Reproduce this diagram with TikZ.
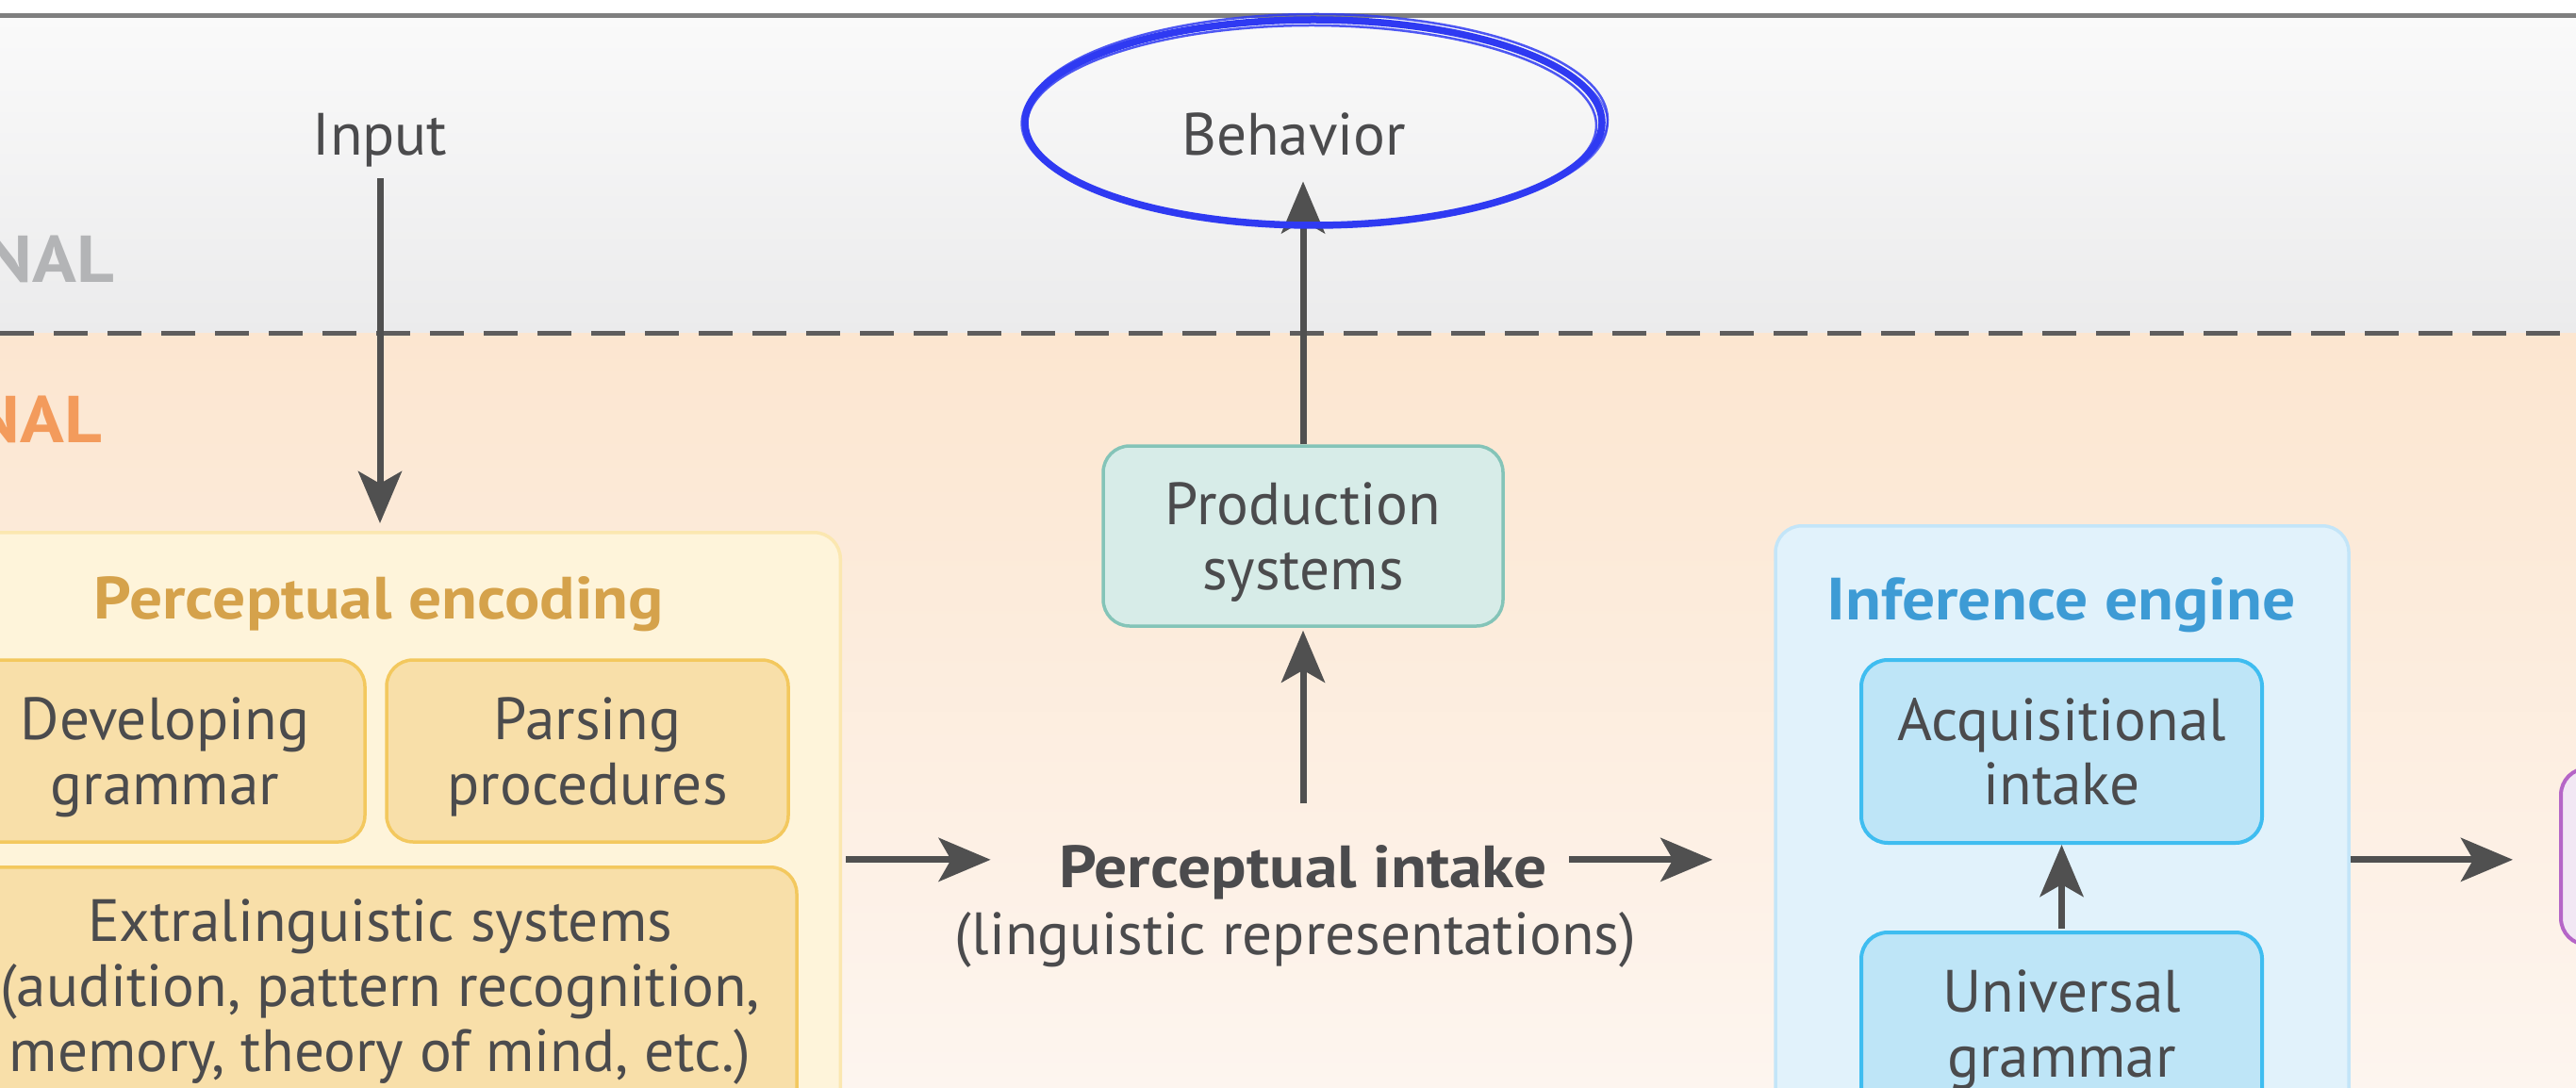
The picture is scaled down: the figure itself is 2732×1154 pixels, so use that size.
\documentclass[tikz,border=0pt]{standalone}
\usepackage{fontspec}
\setmainfont{PT Sans}[BoldFeatures={FakeStretch=1.1}]
\usetikzlibrary{arrows.meta}

\definecolor{ink}{HTML}{4B4B4D}
\definecolor{arrowc}{HTML}{505050}
\definecolor{ruleC}{HTML}{7F7F7F}
\definecolor{dashC}{HTML}{5E5D5D}
\definecolor{extTop}{HTML}{FAFAFA}
\definecolor{extBot}{HTML}{EBEBEC}
\definecolor{intTop}{HTML}{FCE6D0}
\definecolor{intMid}{HTML}{FCEBDC}
\definecolor{intBot}{HTML}{FDF5EF}
\definecolor{extLabel}{HTML}{B3B4B6}
\definecolor{intLabel}{HTML}{F39B5C}
\definecolor{encFill}{HTML}{FEF4DA}
\definecolor{encLine}{HTML}{FBE7B0}
\definecolor{encTitle}{HTML}{D5A24B}
\definecolor{subFill}{HTML}{F8DFA9}
\definecolor{subLine}{HTML}{F3C85E}
\definecolor{prodFill}{HTML}{D7ECE8}
\definecolor{prodLine}{HTML}{84C4B8}
\definecolor{infFill}{HTML}{E1F2FB}
\definecolor{infLine}{HTML}{C3E5F8}
\definecolor{infTitle}{HTML}{3D9BD5}
\definecolor{ugFill}{HTML}{BEE5F7}
\definecolor{ugLine}{HTML}{3FBDF0}
\definecolor{outFill}{HTML}{F2E7F4}
\definecolor{outLine}{HTML}{B565C7}
\definecolor{pen}{HTML}{2F3AF2}

\begin{document}
\begin{tikzpicture}[x=0.1mm, y=-0.1mm,
  every node/.style={text=ink, inner sep=0pt, font=\fontsize{18}{19.6}\selectfont},
  panel/.style={draw, rounded corners=2.8mm, line width=0.35mm},
  box/.style={panel, align=center, text depth=0pt},
  arr/.style={draw=arrowc, line width=0.7mm, -{Stealth[length=5.5mm, width=4.6mm, inset=1.3mm]}},
  title/.style={font=\fontsize{18}{19.6}\selectfont\bfseries, anchor=base},
  zone/.style={font=\fontsize{20}{22}\selectfont\bfseries, anchor=base east},
]

\useasboundingbox (0,0) rectangle (2732,1154);
\clip (0,0) rectangle (2732,1154);

% background bands: external (grey) above, internal (peach) below
\fill[white] (0,0) rectangle (2732,1154);
\fill[top color=extTop, bottom color=extBot] (0,17) rectangle (2732,354);
\fill[top color=intTop, middle color=intMid, bottom color=intBot] (0,354) rectangle (2732,1154);
\draw[ruleC, line width=0.5mm] (0,17) -- (2732,17);
\draw[dashC, line width=0.5mm, dash pattern=on 3.6mm off 2.1mm] (0,354) -- (2732,354);

% zone labels
\node[zone, text=extLabel] (ext) at (122,300) {NAL};
\node[zone, text=intLabel] (int) at (109,469) {NAL};

% top labels
\node[anchor=base] (input) at (403,165) {Input};
\node[anchor=base] (behavior) at (1372,165) {Behavior};

% production
\node[box, draw=prodLine, fill=prodFill, minimum width=42.4mm, minimum height=19.1mm] (prod) at (1382,568.5) {Production\\systems};

% perceptual encoding
\node[panel, draw=encLine, fill=encFill, minimum width=95.3mm, minimum height=70mm, anchor=north east] (penc) at (893,563) {};
\node[title, text=encTitle] (pencT) at (402,656) {Perceptual encoding};
\node[box, draw=subLine, fill=subFill, minimum width=42.4mm, minimum height=19.3mm] (devg) at (175,796.5) {Developing\\grammar};
\node[box, draw=subLine, fill=subFill, minimum width=42.6mm, minimum height=19.3mm] (parse) at (623,796.5) {Parsing\\procedures};
\node[panel, draw=subLine, fill=subFill, minimum width=88.4mm, minimum height=35mm, anchor=north] (extra) at (403,918) {};
\node[align=center, anchor=north] (extraT) at (403,953) {Extralinguistic systems\\(audition, pattern recognition,\\memory, theory of mind, etc.)};

% perceptual intake
\node[anchor=base, font=\fontsize{18}{19.6}\selectfont\bfseries] (pint) at (1382,941) {Perceptual intake};
\node[anchor=base] (pling) at (1374,1012) {(linguistic representations)};

% inference engine
\node[panel, draw=infLine, fill=infFill, minimum width=60.8mm, minimum height=70mm, anchor=north] (inf) at (2187,556) {};
\node[title, text=infTitle] (infT) at (2186,657) {Inference engine};
\node[box, draw=ugLine, fill=ugFill, line width=0.4mm, minimum width=42.5mm, minimum height=19.4mm] (acq) at (2186.5,797) {Acquisitional\\intake};
\node[box, draw=ugLine, fill=ugFill, line width=0.4mm, minimum width=42.5mm, minimum height=19.4mm] (ug) at (2186.5,1086) {Universal\\grammar};

% output box at the right edge
\node[panel, draw=outLine, fill=outFill, line width=0.4mm, minimum width=20mm, minimum height=18.7mm, anchor=north west] (out) at (2714,813) {};

% connectors
\path ([yshift=1.3mm]pint.west) coordinate (flow);
\draw[arr, shorten <=1.1mm, shorten >=0.8mm] (input.south) -- (input.south |- penc.north);
\draw[arr, shorten >=2.6mm] (prod.north) -- (prod.north |- behavior.south);
\draw[arr, shorten <=4.3mm, shorten >=0.3mm] (pint.north -| prod.south) -- (prod.south);
\draw[arr, shorten <=0.4mm, shorten >=7.2mm] (penc.east |- flow) -- (flow);
\draw[arr, shorten <=2.3mm, shorten >=6.5mm] (pint.east |- flow) -- (inf.west |- flow);
\draw[arr, shorten >=4.9mm] (inf.east |- flow) -- (out.west |- flow);
\draw[arr, shorten <=0.2mm] (ug.north) -- (acq.south);

% hand-drawn ring around Behavior
\path (behavior.base) ++(21,-35) coordinate (ring);
\draw[pen, line width=0.75mm] (ring) ellipse [x radius=306, y radius=109];
\draw[pen, line width=0.25mm, opacity=0.85] ([shift={(3,-3)}]ring) ellipse [x radius=309, y radius=112];
\draw[pen, line width=0.25mm, opacity=0.85] ([shift={(-2,3)}]ring) ellipse [x radius=302, y radius=106];
\draw[pen, line width=0.15mm, opacity=0.7] ([shift={(1,1)}]ring) ellipse [x radius=311, y radius=108];

\end{tikzpicture}
\end{document}
